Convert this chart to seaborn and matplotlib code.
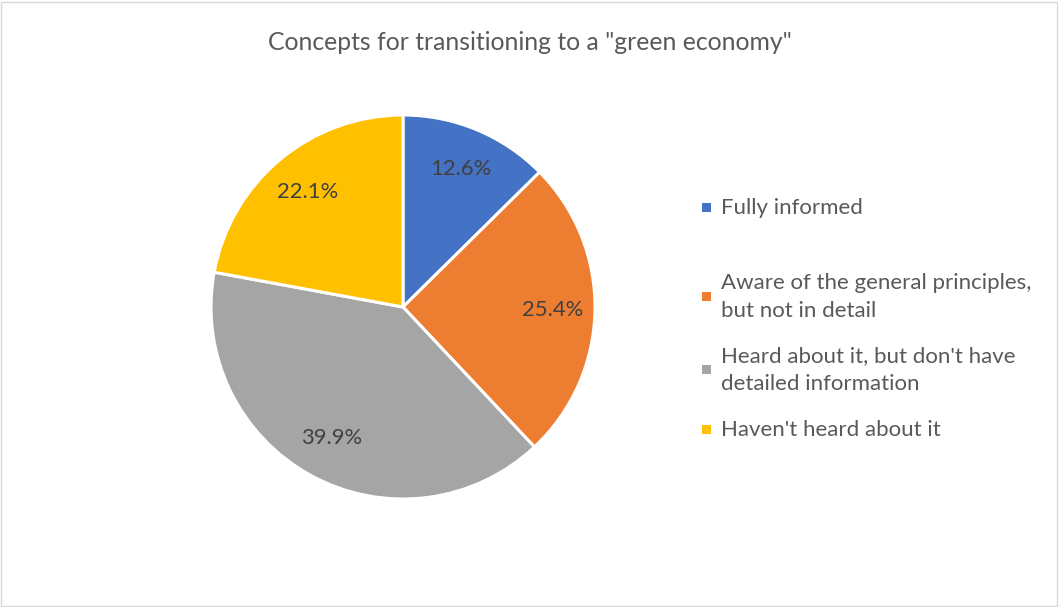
import matplotlib
matplotlib.use("Agg")
import matplotlib.pyplot as plt
from matplotlib.patches import Rectangle
import seaborn as sns

# Survey responses: awareness of "green economy" transition concepts
categories = [
    "Fully informed",
    "Aware of the general principles,\nbut not in detail",
    "Heard about it, but don't have\ndetailed information",
    "Haven't heard about it",
]
shares = [12.6, 25.4, 39.9, 22.1]
colors = ["#4472C4", "#ED7D31", "#A5A5A5", "#FFC000"]
title = 'Concepts for transitioning to a "green economy"'

sns.set_theme(style="white")
plt.rcParams["font.family"] = ["Lato", "DejaVu Sans"]

W, H = 1059, 607
fig = plt.figure(figsize=(W / 100, H / 100), dpi=100)
fig.patch.set_facecolor("white")

# Pie axes: centre (403, 307) px, radius 192 px
cx, cy, r = 403, 307, 192
ax = fig.add_axes([(cx - r) / W, (H - cy - r) / H, 2 * r / W, 2 * r / H])
ax.pie(
    shares,
    colors=colors,
    startangle=90,
    counterclock=False,
    autopct="%.1f%%",
    pctdistance=0.78,
    wedgeprops=dict(edgecolor="white", linewidth=2.2),
    textprops=dict(color="#404040", fontsize=15.8),
)
ax.set_aspect("equal")
ax.set_xlim(-1, 1)
ax.set_ylim(-1, 1)
ax.axis("off")

fig.text(0.5, 1 - 42 / H, title, ha="center", va="center",
         fontsize=17.8, color="#595959")

# Legend entries placed at their own vertical positions
legend_y = [208, 297, 370, 430]
for lab, col, y in zip(categories, colors, legend_y):
    fig.patches.append(Rectangle(((706 - 4) / W, 1 - (y + 4) / H), 9 / W, 9 / H,
                                 transform=fig.transFigure, facecolor=col,
                                 edgecolor="none"))
    fig.text(721 / W, 1 - y / H, lab, ha="left", va="center",
             fontsize=16, color="#595959", linespacing=1.55)

# Thin light frame around the chart area
fig.patches.append(Rectangle((1 / W, 1 / H), (W - 3) / W, (H - 3) / H,
                             transform=fig.transFigure, facecolor="none",
                             edgecolor="#D9D9D9", linewidth=1))

fig.savefig("out.png", dpi=100, facecolor="white")
